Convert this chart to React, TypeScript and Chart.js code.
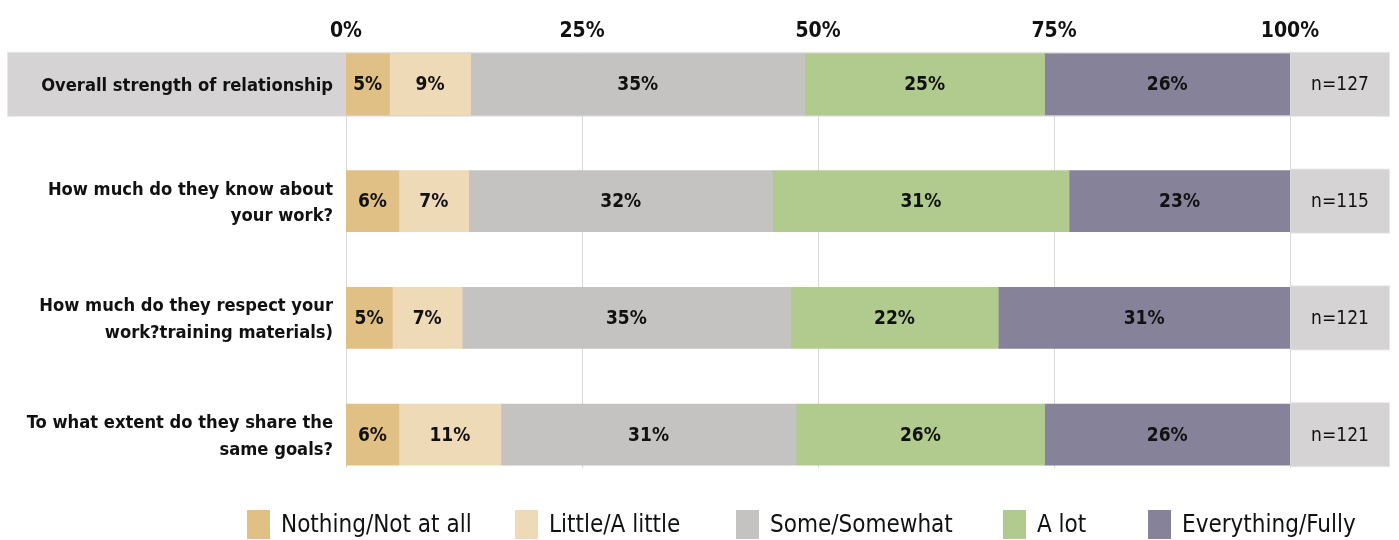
import React, { useEffect, useRef } from "react";
import { Chart, registerables } from "chart.js";

Chart.register(...registerables);

// ---------- data ----------
const categories: (string | string[])[] = [
  "Overall strength of relationship",
  ["How much do they know about", "your work?"],
  ["How much do they respect your", "work?training materials)"],
  ["To what extent do they share the", "same goals?"],
];
const seriesNames = [
  "Nothing/Not at all",
  "Little/A little",
  "Some/Somewhat",
  "A lot",
  "Everything/Fully",
];
const nothingValues = [4.6, 5.6, 4.9, 5.6];
const littleValues = [8.6, 7.4, 7.4, 10.8];
const someValues = [35.4, 32.2, 34.8, 31.3];
const aLotValues = [25.4, 31.4, 22.0, 26.3];
const everythingValues = [26.0, 23.4, 30.9, 26.0];
const sampleSizes = [127, 115, 121, 121];
const xTickValues = [0, 25, 50, 75, 100];

// ---------- styles ----------
const seriesColors = ["#e0c084", "#eedab6", "#c4c3c1", "#b0cb8d", "#86829a"];
const FONT = '"DejaVu Sans Condensed", "DejaVu Sans", sans-serif';
const BAR_THICKNESS = 61;
const TEXT = "#111111";
const LEGEND_BOX_X = [247, 515, 736, 1003, 1148];

const backgroundPlugin = {
  id: "bgBands",
  beforeDraw(chart: any) {
    const { ctx } = chart;
    const x = chart.scales.x;
    const y = chart.scales.y;
    const half = BAR_THICKNESS / 2;
    const xEnd = x.getPixelForValue(100);
    ctx.save();
    categories.forEach((_, i) => {
      const cy = y.getPixelForValue(i);
      const left = i === 0 ? 7 : xEnd;
      const right = xEnd + 100;
      const top = cy - half - 2;
      const bottom = cy + half + 2;
      ctx.fillStyle = "#e6e6e6";
      ctx.fillRect(left, top, right - left, bottom - top);
      ctx.fillStyle = "#d5d3d4";
      ctx.fillRect(left + 1, top + 1, right - left - 2, bottom - top - 2);
    });
    // grid lines
    const gTop = y.getPixelForValue(0) - half - 2;
    const gBottom = y.getPixelForValue(categories.length - 1) + half + 3;
    ctx.strokeStyle = "#d9d9d9";
    ctx.lineWidth = 1;
    xTickValues.forEach((v) => {
      const px = Math.round(x.getPixelForValue(v)) + 0.5;
      ctx.beginPath();
      ctx.moveTo(px, gTop);
      ctx.lineTo(px, gBottom);
      ctx.stroke();
    });
    // n labels
    ctx.fillStyle = TEXT;
    ctx.font = `normal 19px ${FONT}`;
    ctx.textAlign = "center";
    ctx.textBaseline = "middle";
    sampleSizes.forEach((n, i) => {
      ctx.fillText(`n=${n}`, xEnd + 50, y.getPixelForValue(i) + 1);
    });
    ctx.restore();
  },
};

const dataLabelPlugin = {
  id: "dataLabels",
  afterDatasetsDraw(chart: any) {
    const { ctx } = chart;
    ctx.save();
    ctx.fillStyle = TEXT;
    ctx.font = `bold 19px ${FONT}`;
    ctx.textAlign = "center";
    ctx.textBaseline = "middle";
    chart.data.datasets.forEach((ds: any, di: number) => {
      const meta = chart.getDatasetMeta(di);
      meta.data.forEach((bar: any, i: number) => {
        const { x, base, y } = bar.getProps(["x", "base", "y"], true);
        const v = ds.data[i];
        ctx.fillText(`${Math.round(v)}%`, (x + base) / 2, y + 1);
      });
    });
    ctx.restore();
  },
};

const legendPlugin = {
  id: "customLegend",
  afterDraw(chart: any) {
    const { ctx } = chart;
    ctx.save();
    ctx.font = `normal 24px ${FONT}`;
    ctx.textBaseline = "middle";
    ctx.textAlign = "left";
    const boxTop = 510;
    const boxW = 23;
    const boxH = 29;
    chart.data.datasets.forEach((ds: any, i: number) => {
      const xPos = LEGEND_BOX_X[i];
      ctx.fillStyle = ds.backgroundColor;
      ctx.fillRect(xPos, boxTop, boxW, boxH);
      ctx.fillStyle = TEXT;
      ctx.fillText(ds.label, xPos + 34, boxTop + boxH / 2 + 1);
    });
    ctx.restore();
  },
};

export default function App() {
  const canvasRef = useRef<HTMLCanvasElement | null>(null);

  useEffect(() => {
    document.body.style.margin = "0";
    const canvas = canvasRef.current;
    if (!canvas) return;
    const valueSeries = [nothingValues, littleValues, someValues, aLotValues, everythingValues];
    const chart = new Chart(canvas, {
      type: "bar",
      data: {
        labels: categories as any,
        datasets: valueSeries.map((vals, i) => ({
          label: seriesNames[i],
          data: vals,
          backgroundColor: seriesColors[i],
          borderWidth: 0,
          barThickness: BAR_THICKNESS,
        })),
      },
      options: {
        indexAxis: "y",
        responsive: false,
        animation: false,
        devicePixelRatio: 1,
        layout: { padding: { top: 0, right: 109, bottom: 47, left: 0 } },
        plugins: {
          legend: { display: false },
          tooltip: { enabled: false },
        },
        scales: {
          x: {
            position: "top",
            stacked: true,
            min: 0,
            max: 100,
            grid: { display: false, drawTicks: false },
            border: { display: false },
            ticks: {
              stepSize: 25,
              mirror: true,
              padding: -7,
              color: TEXT,
              font: { family: FONT, size: 21, weight: "bold" },
              callback: (v: any) => `${v}%`,
            },
            afterFit: (s: any) => {
              s.height = 26;
            },
          },
          y: {
            stacked: true,
            grid: { display: false, drawTicks: false },
            border: { display: false },
            ticks: {
              padding: 13,
              labelOffset: 2,
              color: TEXT,
              font: { family: FONT, size: 18.2, weight: "bold", lineHeight: 1.45 },
            },
            afterFit: (s: any) => {
              s.width = 346;
              s.paddingTop = 0;
              s.paddingBottom = 0;
            },
          },
        },
      } as any,
      plugins: [backgroundPlugin, dataLabelPlugin, legendPlugin],
    });
    return () => chart.destroy();
  }, []);

  return (
    <div style={{ width: 1399, height: 540 }}>
      <canvas ref={canvasRef} width={1399} height={540} style={{ display: "block" }} />
    </div>
  );
}
